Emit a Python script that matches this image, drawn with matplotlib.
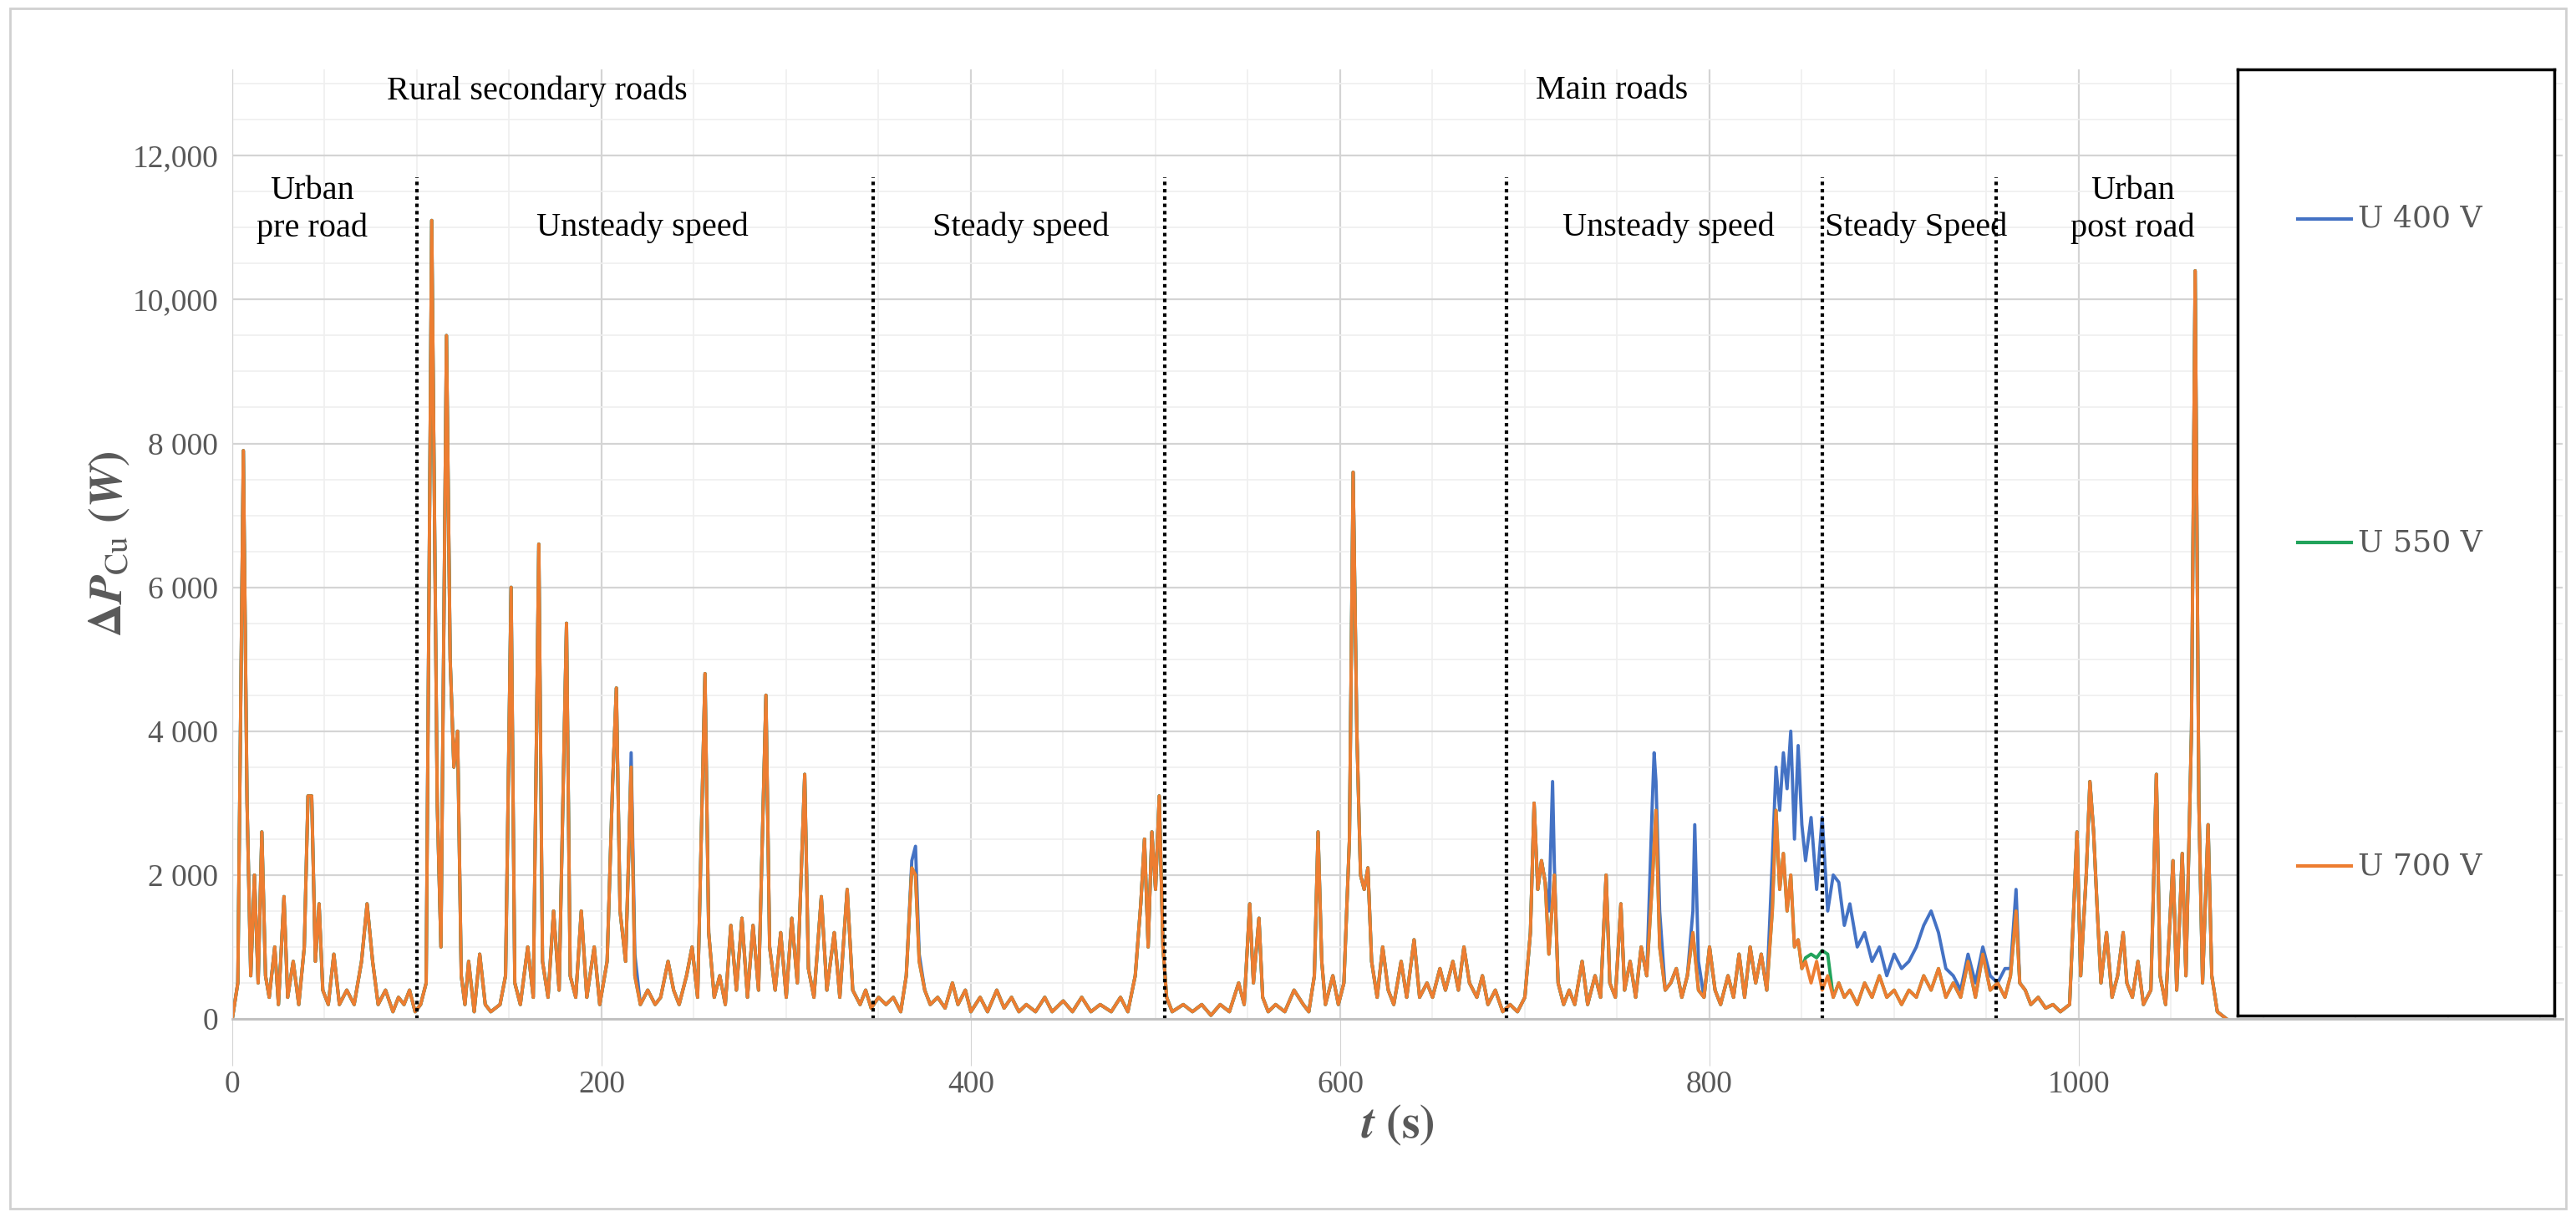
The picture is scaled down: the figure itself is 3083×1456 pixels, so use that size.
import numpy as np
import matplotlib
matplotlib.use("Agg")
import matplotlib.pyplot as plt
from matplotlib.patches import Rectangle
from matplotlib.lines import Line2D

# ---- data ----
t = [0,3,6,8,10,12,14,16,18,20,23,25,28,30,33,36,39,41,43,45,47,49,52,55,58,62,66,70,73,76,79,83,87,90,93,96,99,102,105,
     108,111,113,116,118,120,122,124,126,128,131,134,137,140,145,148,151,153,156,160,163,166,168,171,174,177,181,183,186,189,192,196,199,
     203,206,208,210,213,216,218,221,225,229,232,236,239,242,246,249,252,256,258,261,264,267,270,273,276,279,282,285,289,291,294,297,300,
     303,306,310,312,315,319,322,326,329,333,336,340,343,346,350,354,358,362,365,368,370,372,375,378,382,386,390,393,397,400,405,409,414,
     418,422,426,430,435,440,444,450,455,460,465,470,476,481,485,489,492,494,496,498,500,502,504,506,509,515,520,525,530,535,540,545,548,
     551,553,556,558,561,565,570,575,580,583,586,588,590,592,596,599,602,605,607,609,611,613,615,617,620,623,626,629,633,636,640,643,647,
     650,654,657,661,664,667,670,674,677,680,684,688,692,696,700,703,705,707,709,711,713,716,718,721,724,727,731,734,738,741,744,746,749,
     752,754,757,760,763,766,769,771,773,776,779,782,785,788,791,794,797,800,803,806,810,813,816,819,822,825,828,831,834,836,838,840,842,
     844,846,848,850,852,855,858,861,864,867,870,873,876,880,884,888,892,896,900,904,908,912,916,920,924,928,932,936,940,944,948,952,956,
     960,963,966,968,971,974,978,982,986,990,995,999,1001,1004,1006,1008,1010,1012,1015,1018,1021,1024,1026,1029,1032,1035,1039,1042,1044,
     1047,1051,1053,1056,1058,1061,1063,1065,1067,1070,1072,1075,1080]
u700 = [0,500,7900,3000,600,2000,500,2600,600,300,1000,200,1700,300,800,200,1000,3100,3100,800,1600,400,200,900,200,400,200,800,1600,800,200,400,100,300,200,400,100,200,500,
        11100,3000,1000,9500,5000,3500,4000,600,200,800,100,900,200,100,200,600,6000,500,200,1000,300,6600,800,300,1500,400,5500,600,300,1500,300,1000,200,
        800,3300,4600,1500,800,3500,600,200,400,200,300,800,400,200,600,1000,300,4800,1200,300,600,200,1300,400,1400,300,1300,400,4500,1000,400,1200,300,
        1400,500,3400,700,300,1700,400,1200,300,1800,400,200,400,150,300,200,300,100,600,2100,2000,800,400,200,300,150,500,200,400,100,300,100,400,
        150,300,100,200,100,300,100,250,100,300,100,200,100,300,100,600,1600,2500,1000,2600,1800,3100,1000,300,100,200,100,200,50,200,100,500,200,
        1600,500,1400,300,100,200,100,400,200,100,600,2600,800,200,600,200,500,2500,7600,4000,2000,1800,2100,800,300,1000,400,200,800,300,1100,300,500,
        300,700,400,800,400,1000,500,300,600,200,400,100,200,100,300,1200,3000,1800,2200,1900,900,2000,500,200,400,200,800,200,600,300,2000,500,300,
        1600,400,800,300,1000,600,1900,2900,1000,400,500,700,300,600,1200,400,300,1000,400,200,600,300,900,300,1000,500,900,400,1500,2900,1800,2300,1500,
        2000,1000,1100,700,800,500,800,400,600,300,500,300,400,200,500,300,600,300,400,200,400,300,600,400,700,300,500,300,800,300,900,400,500,
        300,600,1500,500,400,200,300,150,200,100,200,2600,600,2000,3300,2600,1500,500,1200,300,600,1200,500,300,800,200,400,3400,600,
        200,2200,400,2300,600,4000,10400,3000,500,2700,600,100,0]
# U 400 V differs from U 700 V at these times
u400_t = [215,216,218,368,370,372,713,715,716,769,770,771,773,791,792,794,
          834,836,838,840,842,844,846,848,850,852,855,858,861,864,867,870,873,876,880,884,888,892,896,900,904,908,912,916,920,924,928,932,936,940,944,948,952,956,960,963,966]
u400_v = [2500,3700,900,2200,2400,900,1500,3300,2100,3000,3700,3300,1500,1500,2700,800,
          2200,3500,2900,3700,3200,4000,2500,3800,2700,2200,2800,1800,2800,1500,2000,1900,1300,1600,1000,1200,800,1000,600,900,700,800,1000,1300,1500,1200,700,600,400,900,500,1000,600,500,700,700,1800]
# U 550 V differs from U 700 V at these times
u550_t = [852,855,858,861,864]
u550_v = [850,900,850,950,900]

xticks = [0, 200, 400, 600, 800, 1000]
yticks = [0, 2000, 4000, 6000, 8000, 10000, 12000]
ytick_labels = ["0", "2 000", "4 000", "6 000", "8 000", "10,000", "12,000"]
boundaries = [100, 347, 505, 690, 861, 955]
region_labels = [("Urban\npre road", 43, 11250), ("Unsteady speed", 222, 11000), ("Steady speed", 427, 11000),
                 ("Unsteady speed", 778, 11000), ("Steady Speed", 912, 11000), ("Urban\npost road", 1029, 11250)]
top_labels = [("Rural secondary roads", 165, 12900), ("Main roads", 747, 12900)]
series_names = ["U 400 V", "U 550 V", "U 700 V"]
colors = ["#4472C4", "#21A35B", "#ED7D31"]

def override(base_t, base_v, ot, ov):
    d = dict(zip(base_t, base_v))
    d.update(dict(zip(ot, ov)))
    ks = sorted(d)
    return ks, [d[k] for k in ks]

t400, v400 = override(t, u700, u400_t, u400_v)
t550, v550 = override(t, u700, u550_t, u550_v)

plt.rcParams['font.family'] = ['Liberation Serif', 'DejaVu Serif']
plt.rcParams['mathtext.fontset'] = 'stix'
fig = plt.figure(figsize=(30.83, 14.56), dpi=100)
fig.patches.append(Rectangle((0.004, 0.007), 0.992, 0.986, transform=fig.transFigure,
                             fill=False, edgecolor="#d0d0d0", linewidth=2))
W, H = 3083, 1456
ax = fig.add_axes([278/W, 1 - 1219/H, (3067-278)/W, (1219-83)/H])
ax.set_xlim(0, 1262)
ax.set_ylim(0, 13200)
ax.set_xticks(xticks)
ax.set_xticklabels([str(x) for x in xticks])
ax.set_yticks(yticks)
ax.set_yticklabels(ytick_labels)
ax.set_xticks(np.arange(0, 1262, 50), minor=True)
ax.set_yticks(np.arange(0, 13200, 500), minor=True)
ax.grid(which="major", color="#d4d4d4", linewidth=1.6)
ax.grid(which="minor", color="#efefef", linewidth=1.2)
ax.tick_params(which="both", length=0, labelsize=27, colors="#595959", pad=12)
ax.tick_params(axis="x", which="major", length=40, color="#d4d4d4", direction="out", pad=4)
for s in ["top", "right"]:
    ax.spines[s].set_visible(False)
ax.spines["left"].set_color("#d4d4d4")
ax.spines["bottom"].set_color("#bfbfbf")
ax.spines["bottom"].set_linewidth(2)

ax.plot(t400, v400, color=colors[0], lw=2.8)
ax.plot(t550, v550, color=colors[1], lw=2.8)
ax.plot(t, u700, color=colors[2], lw=2.8)

for b in boundaries:
    ax.plot([b, b], [0, 11700], color="black", ls=(0, (1, 1.1)), lw=3)
for txt, x, y in region_labels + top_labels:
    ax.text(x, y, txt, ha="center", va="center", fontsize=29, color="black", linespacing=1.25)

ax.set_xlabel(r"$\boldsymbol{t}$ $\mathbf{(s)}$", fontsize=40, color="#595959", labelpad=4)
ax.set_ylabel(r"$\boldsymbol{\Delta P}_{\mathrm{Cu}}$ $\boldsymbol{(W)}$", fontsize=40,
              color="#595959", labelpad=0)

# legend box
lax = fig.add_axes([2678/W, 1 - 1215/H, (3057-2678)/W, (1215-83)/H])
lax.set_xlim(0, 1); lax.set_ylim(0, 1)
lax.set_xticks([]); lax.set_yticks([])
for s in lax.spines.values():
    s.set_linewidth(2.5); s.set_color("black")
for name, c, y in zip(series_names, colors, [0.842, 0.5, 0.158]):
    lax.add_line(Line2D([0.19, 0.36], [y, y], color=c, lw=3))
    lax.text(0.38, y, name, va="center", ha="left", fontsize=26, color="#595959",
             family=['DejaVu Serif'])

fig.savefig("out.png", dpi=100)
